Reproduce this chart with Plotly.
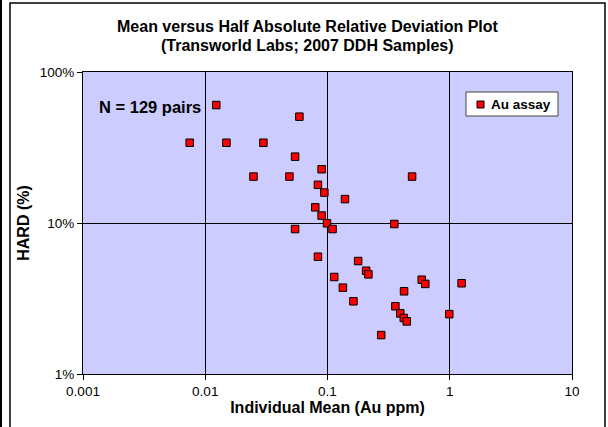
import plotly.graph_objects as go

# Data (individual mean in Au ppm, HARD as fraction)
mean_au = [0.0123, 0.00746, 0.0149, 0.0299, 0.0589, 0.0543, 0.0248, 0.0488,
           0.0895, 0.0835, 0.0942, 0.0794, 0.0895, 0.0991, 0.110, 0.0543,
           0.0835, 0.139, 0.492, 0.352, 0.178, 0.207, 0.216, 0.1135,
           0.1336, 0.163, 0.275, 0.423, 0.359, 0.394, 0.421, 0.445,
           0.590, 0.631, 1.25, 0.991]
hard_pct = [60.4, 34.0, 34.0, 34.0, 50.6, 27.5, 20.3, 20.3,
            22.7, 17.9, 15.9, 12.7, 11.2, 9.95, 9.12, 9.12,
            5.98, 14.4, 20.3, 9.85, 5.60, 4.83, 4.57, 4.39,
            3.73, 3.03, 1.81, 3.53, 2.81, 2.52, 2.35, 2.23,
            4.21, 3.95, 3.99, 2.49]
hard = [v / 100 for v in hard_pct]

series_name = "Au assay"
x_ticks = [0.001, 0.01, 0.1, 1, 10]
x_tick_labels = ["0.001", "0.01", "0.1", "1", "10"]
y_ticks = [0.01, 0.1, 1]
y_tick_labels = ["1%", "10%", "100%"]

FONT = "Liberation Sans, Arial, sans-serif"
MARKER_COLOR = "#FF0000"

fig = go.Figure()
fig.add_trace(go.Scatter(
    x=mean_au, y=hard, mode="markers", name=series_name, showlegend=False,
    marker=dict(symbol="square", size=7.5, color=MARKER_COLOR,
                line=dict(color="#000000", width=1)),
))

W, H = 608, 427
L, R, T, B = 83, 36, 72, 53
pw = W - L - R
ph = H - T - B

def px2paper_x(px):
    return (px - L) / pw

def px2paper_y(py):
    return (H - B - py) / ph

def ann(text, x, y, size, xanchor="center", yanchor="middle"):
    return dict(text=text, xref="paper", yref="paper",
                x=px2paper_x(x), y=px2paper_y(y),
                xanchor=xanchor, yanchor=yanchor, showarrow=False,
                font=dict(family=FONT, size=size, color="black"))

annotations = [
    ann("<b>Mean versus Half Absolute Relative Deviation Plot</b>", 307.5, 26, 16),
    ann("<b>(Transworld Labs; 2007 DDH Samples)</b>", 307.5, 45, 16),
    ann("<b>N = 129 pairs</b>", 97, 107, 16.5, xanchor="left"),
    ann("<b>" + series_name + "</b>", 489, 104.5, 13.5, xanchor="left"),
]

shapes = [
    # outer chart border
    dict(type="rect", xref="paper", yref="paper", layer="below",
         x0=px2paper_x(10), x1=px2paper_x(605),
         y0=px2paper_y(440), y1=px2paper_y(3),
         line=dict(color="black", width=1.5), fillcolor="rgba(0,0,0,0)"),
    dict(type="line", xref="paper", yref="paper",
         x0=px2paper_x(1), x1=px2paper_x(1),
         y0=px2paper_y(440), y1=px2paper_y(-10),
         line=dict(color="black", width=2)),
    # legend box
    dict(type="rect", xref="paper", yref="paper",
         x0=px2paper_x(466), x1=px2paper_x(558),
         y0=px2paper_y(116), y1=px2paper_y(92),
         line=dict(color="#444444", width=1), fillcolor="white"),
    # legend marker
    dict(type="rect", xref="paper", yref="paper",
         x0=px2paper_x(477), x1=px2paper_x(484),
         y0=px2paper_y(108), y1=px2paper_y(101),
         line=dict(color="black", width=1), fillcolor=MARKER_COLOR),
]

fig.update_layout(
    width=W, height=H,
    margin=dict(l=L, r=R, t=T, b=B),
    paper_bgcolor="white",
    plot_bgcolor="#CCCCFF",
    font=dict(family=FONT, size=13.5, color="black"),
    showlegend=False,
    xaxis=dict(
        type="log", range=[-3, 1],
        tickvals=x_ticks, ticktext=x_tick_labels,
        showgrid=True, gridcolor="black", gridwidth=1,
        showline=True, linecolor="black", linewidth=1, mirror=True,
        ticks="outside", ticklen=5, tickcolor="black",
        tickfont=dict(family=FONT, size=13.5),
        title=dict(text="<b>Individual Mean (Au ppm)</b>",
                   font=dict(family=FONT, size=16), standoff=3),
        zeroline=False,
    ),
    yaxis=dict(
        type="log", range=[-2, 0],
        tickvals=y_ticks, ticktext=y_tick_labels,
        showgrid=True, gridcolor="black", gridwidth=1,
        showline=True, linecolor="black", linewidth=1, mirror=True,
        ticks="outside", ticklen=5, tickcolor="black",
        tickfont=dict(family=FONT, size=13.5),
        title=dict(text="<b>HARD (%)</b>",
                   font=dict(family=FONT, size=16), standoff=6),
        zeroline=False,
    ),
    annotations=annotations,
    shapes=shapes,
)

fig.write_html("out.html")
